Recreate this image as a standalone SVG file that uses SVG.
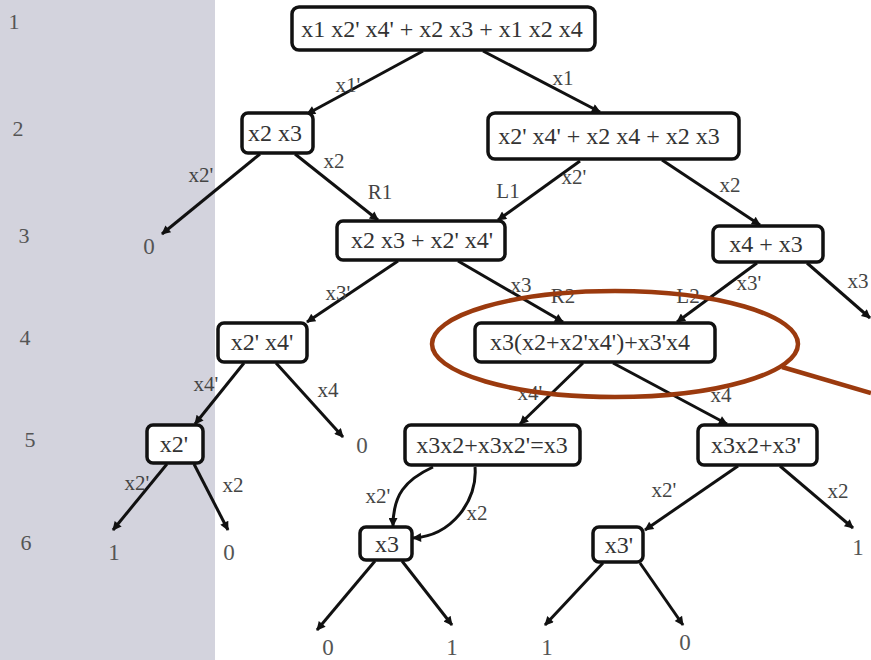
<svg xmlns="http://www.w3.org/2000/svg" width="871" height="660" viewBox="0 0 871 660">
<style>
.box{fill:#fff;stroke:#111;stroke-width:3.5}
.nt{font-family:"Liberation Serif","Times New Roman",serif;font-size:24px;fill:#333;text-anchor:middle}
.lb{font-family:"Liberation Serif","Times New Roman",serif;font-size:21px;fill:#444;text-anchor:middle}
.lf{font-family:"Liberation Serif","Times New Roman",serif;font-size:23px;fill:#555;text-anchor:middle}
.rn{font-family:"Liberation Serif","Times New Roman",serif;font-size:22px;fill:#555;text-anchor:middle}
.e{fill:none;stroke:#111;stroke-width:3;marker-end:url(#ah)}
.hl{fill:none;stroke:#9b3a0e;stroke-width:4.5}
</style>
<defs>
<marker id="ah" viewBox="0 0 10 10" refX="9" refY="5" markerWidth="11" markerHeight="9" markerUnits="userSpaceOnUse" orient="auto">
<path d="M0,0 L10,5 L0,10 z" fill="#111"/>
</marker>
</defs>
<rect x="0" y="0" width="871" height="660" fill="#fff"/>
<rect id="level-panel" x="0" y="0" width="215" height="660" fill="#d3d3dd"/>
<g id="levels">
<text class="rn" x="14" y="29">1</text>
<text class="rn" x="18" y="136">2</text>
<text class="rn" x="24" y="243">3</text>
<text class="rn" x="25" y="345">4</text>
<text class="rn" x="30" y="447">5</text>
<text class="rn" x="26" y="550">6</text>
</g>
<g id="connectors">
<path class="e" d="M423,51 L307,114"/>
<path class="e" d="M483,51 L600,112"/>
<path class="e" d="M260,154 L162,234"/>
<path class="e" d="M295,154 L378,220"/>
<path class="e" d="M580,161 L498,220"/>
<path class="e" d="M662,160 L760,225"/>
<path class="e" d="M398,261 L307,322"/>
<path class="e" d="M458,261 L563,322"/>
<path class="e" d="M757,263 L677,322"/>
<path class="e" d="M807,263 L870,318"/>
<path class="e" d="M244,363 L195,424"/>
<path class="e" d="M276,363 L343,437"/>
<path class="e" d="M583,363 L520,424"/>
<path class="e" d="M613,363 L727,424"/>
<path class="e" d="M167,464 L113,530"/>
<path class="e" d="M194,464 L228,530"/>
<path class="e" d="M433,467 C405,480 393,495 393,526"/>
<path class="e" d="M475,467 C478,500 452,536 413,538"/>
<path class="e" d="M375,561 L317,630"/>
<path class="e" d="M402,561 L452,625"/>
<path class="e" d="M738,466 L645,530"/>
<path class="e" d="M780,466 L853,528"/>
<path class="e" d="M603,563 L545,625"/>
<path class="e" d="M640,563 L683,625"/>
</g>
<g id="edge-labels">
<text class="lb" x="348" y="92">x1'</text>
<text class="lb" x="563" y="85">x1</text>
<text class="lb" x="201" y="182">x2'</text>
<text class="lb" x="334" y="168">x2</text>
<text class="lb" x="380" y="199">R1</text>
<text class="lb" x="508" y="198">L1</text>
<text class="lb" x="574" y="184">x2'</text>
<text class="lb" x="730" y="192">x2</text>
<text class="lb" x="338" y="300">x3'</text>
<text class="lb" x="521" y="292">x3</text>
<text class="lb" x="563" y="303">R2</text>
<text class="lb" x="688" y="303">L2</text>
<text class="lb" x="749" y="290">x3'</text>
<text class="lb" x="858" y="288">x3</text>
<text class="lb" x="206" y="391">x4'</text>
<text class="lb" x="328" y="397">x4</text>
<text class="lb" x="530" y="400">x4'</text>
<text class="lb" x="721" y="402">x4</text>
<text class="lb" x="137" y="490">x2'</text>
<text class="lb" x="233" y="492">x2</text>
<text class="lb" x="378" y="503">x2'</text>
<text class="lb" x="477" y="520">x2</text>
<text class="lb" x="664" y="497">x2'</text>
<text class="lb" x="838" y="498">x2</text>
</g>
<g id="n1"><rect class="box" x="292" y="7" width="303" height="43" rx="7"/><text class="nt" x="442" y="37">x1 x2' x4' + x2 x3 + x1 x2 x4</text></g>
<g id="n2"><rect class="box" x="242" y="113" width="71" height="40" rx="6"/><text class="nt" x="275" y="141">x2 x3</text></g>
<g id="n3"><rect class="box" x="488" y="113" width="251" height="46" rx="7"/><text class="nt" x="609" y="144">x2' x4' + x2 x4 + x2 x3</text></g>
<g id="n4"><rect class="box" x="337" y="221" width="168" height="39" rx="6"/><text class="nt" x="422" y="248">x2 x3 + x2' x4'</text></g>
<g id="n5"><rect class="box" x="713" y="226" width="110" height="36" rx="6"/><text class="nt" x="766" y="252">x4 + x3</text></g>
<g id="n6"><rect class="box" x="218" y="323" width="89" height="39" rx="6"/><text class="nt" x="262" y="350">x2' x4'</text></g>
<g id="n7"><rect class="box" x="475" y="323" width="240" height="39" rx="6"/><text class="nt" x="590" y="350">x3(x2+x2'x4')+x3'x4</text></g>
<g id="n8"><rect class="box" x="147" y="425" width="56" height="38" rx="6"/><text class="nt" x="174" y="452">x2'</text></g>
<g id="n9"><rect class="box" x="405" y="425" width="175" height="40" rx="6"/><text class="nt" x="492" y="453">x3x2+x3x2'=x3</text></g>
<g id="n10"><rect class="box" x="698" y="425" width="119" height="40" rx="6"/><text class="nt" x="756" y="453">x3x2+x3'</text></g>
<g id="n11"><rect class="box" x="360" y="527" width="52" height="33" rx="6"/><text class="nt" x="387" y="552">x3</text></g>
<g id="n12"><rect class="box" x="593" y="527" width="50" height="35" rx="6"/><text class="nt" x="619" y="553">x3'</text></g>
<g id="leaves">
<g id="leaf-a"><text class="lf" x="149" y="254">0</text></g>
<g id="leaf-b"><text class="lf" x="362" y="453">0</text></g>
<g id="leaf-c"><text class="lf" x="114" y="560">1</text></g>
<g id="leaf-d"><text class="lf" x="229" y="560">0</text></g>
<g id="leaf-e"><text class="lf" x="328" y="655">0</text></g>
<g id="leaf-f"><text class="lf" x="452" y="655">1</text></g>
<g id="leaf-g"><text class="lf" x="547" y="655">1</text></g>
<g id="leaf-h"><text class="lf" x="685" y="650">0</text></g>
<g id="leaf-i"><text class="lf" x="858" y="555">1</text></g>
</g>
<g id="highlight">
<ellipse class="hl" cx="615" cy="344" rx="183" ry="53"/>
<path class="hl" d="M782,367 L871,393"/>
</g>
</svg>
